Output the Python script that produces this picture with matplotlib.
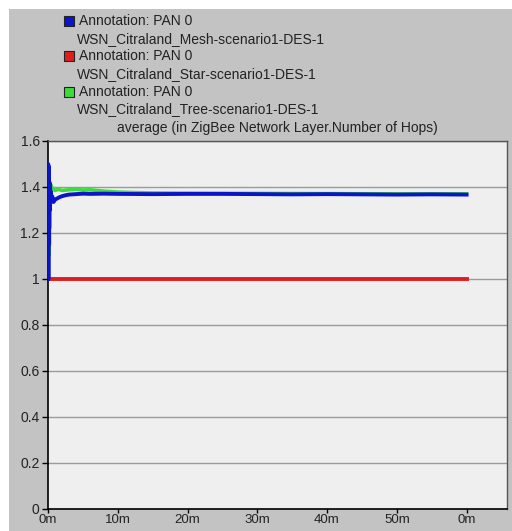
import matplotlib
matplotlib.use("Agg")
import matplotlib.pyplot as plt
from matplotlib.patches import Rectangle

# series, time in minutes
mesh_t = [0, 0.03, 0.06, 0.09, 0.12, 0.15, 0.18, 0.22, 0.26, 0.3, 0.35, 0.4, 0.5, 0.6, 0.8, 1.0,
          1.3, 1.6, 2.0, 2.5, 3, 4, 5, 6, 8, 10, 15, 20, 25, 30, 35, 40, 45, 50, 55, 60]
mesh_v = [1.0, 1.5, 1.0, 1.49, 1.15, 1.45, 1.22, 1.42, 1.3, 1.4, 1.33, 1.38, 1.34, 1.36, 1.335, 1.345,
          1.35, 1.355, 1.36, 1.364, 1.367, 1.369, 1.371, 1.37, 1.371, 1.37, 1.369, 1.37, 1.37, 1.369,
          1.368, 1.369, 1.368, 1.367, 1.368, 1.367]

star_t = [0, 60]
star_v = [1.0, 1.0]

tree_t = [0, 0.05, 0.1, 0.15, 0.2, 0.25, 0.3, 0.4, 0.5, 0.7, 1.0, 1.5, 2, 3, 4, 5, 6, 7, 8, 10,
          12, 15, 20, 30, 40, 50, 60]
tree_v = [1.0, 1.2, 1.1, 1.3, 1.15, 1.4, 1.37, 1.41, 1.39, 1.395, 1.385, 1.39, 1.385, 1.388, 1.39,
          1.387, 1.388, 1.385, 1.382, 1.378, 1.376, 1.374, 1.373, 1.372, 1.371, 1.37, 1.37]

legend_rows = [("Annotation: PAN 0", "WSN_Citraland_Mesh-scenario1-DES-1", "#0a14c8"),
               ("Annotation: PAN 0", "WSN_Citraland_Star-scenario1-DES-1", "#dc1e1e"),
               ("Annotation: PAN 0", "WSN_Citraland_Tree-scenario1-DES-1", "#3cdc3c")]

yticks = [0, 0.2, 0.4, 0.6, 0.8, 1.0, 1.2, 1.4, 1.6]
ylabels = ["0", "0.2", "0.4", "0.6", "0.8", "1", "1.2", "1.4", "1.6"]
xticks = [0, 10, 20, 30, 40, 50, 60]
xlabels = ["0m", "10m", "20m", "30m", "40m", "50m", "0m"]

W, H = 512, 531
fnt = "Liberation Sans"
fs = 10

fig = plt.figure(figsize=(W / 100, H / 100), dpi=100, facecolor="white")
# gray panel behind everything
fig.patches.append(Rectangle((9 / W, 0), 1, (H - 9) / H, transform=fig.transFigure,
                             facecolor="#c3c3c3", edgecolor="none", zorder=-5))

ax = fig.add_axes([48 / W, (H - 509) / H, (507 - 48) / W, (509 - 141) / H])
ax.set_zorder(1)
ax.set_facecolor("#efefef")

ax.plot(star_t, star_v, color="#dc1e1e", lw=2.8, zorder=3)
ax.plot(tree_t, tree_v, color="#3cdc3c", lw=2.6, zorder=4)
ax.plot(mesh_t, mesh_v, color="#0a14c8", lw=2.8, zorder=5)

ax.set_xlim(0, 65.8)
ax.set_ylim(0, 1.6)
ax.set_yticks(yticks)
ax.set_yticklabels(ylabels)
ax.set_xticks(xticks)
ax.set_xticklabels(xlabels)
ax.grid(axis="y", color="#9a9a9a", lw=1.0)
ax.set_axisbelow(True)
ax.tick_params(length=4, width=1, colors="black", labelsize=fs, pad=2)
ax.tick_params(axis="x", length=3, pad=0.5, labelsize=9.5)
for lab in ax.get_xticklabels() + ax.get_yticklabels():
    lab.set_family(fnt)
    lab.set_color("#222222")
for s in ["left", "bottom"]:
    ax.spines[s].set_color("black")
    ax.spines[s].set_linewidth(1.2)
for s in ["top", "right"]:
    ax.spines[s].set_color("#555555")
    ax.spines[s].set_linewidth(1.0)

fig.text(277.5 / W, 1 - 128 / H, "average (in ZigBee Network Layer.Number of Hops)",
         ha="center", va="center", fontsize=fs, family=fnt, color="#222222")

# legend drawn by hand, one coloured box per scenario
y0, dy = 21, 17.7
for i, (line1, line2, col) in enumerate(legend_rows):
    ya = y0 + 2 * i * dy
    yb = ya + dy
    fig.patches.append(Rectangle((64 / W, 1 - (ya + 5) / H), 10 / W, 10 / H,
                                 transform=fig.transFigure, facecolor=col,
                                 edgecolor="#222222", lw=0.8, zorder=2))
    fig.text(79 / W, 1 - ya / H, line1, ha="left", va="center", fontsize=fs,
             family=fnt, color="#222222")
    fig.text(77 / W, 1 - yb / H, line2, ha="left", va="center", fontsize=fs,
             family=fnt, color="#222222")

fig.savefig("out.png", dpi=100, facecolor=fig.get_facecolor())
